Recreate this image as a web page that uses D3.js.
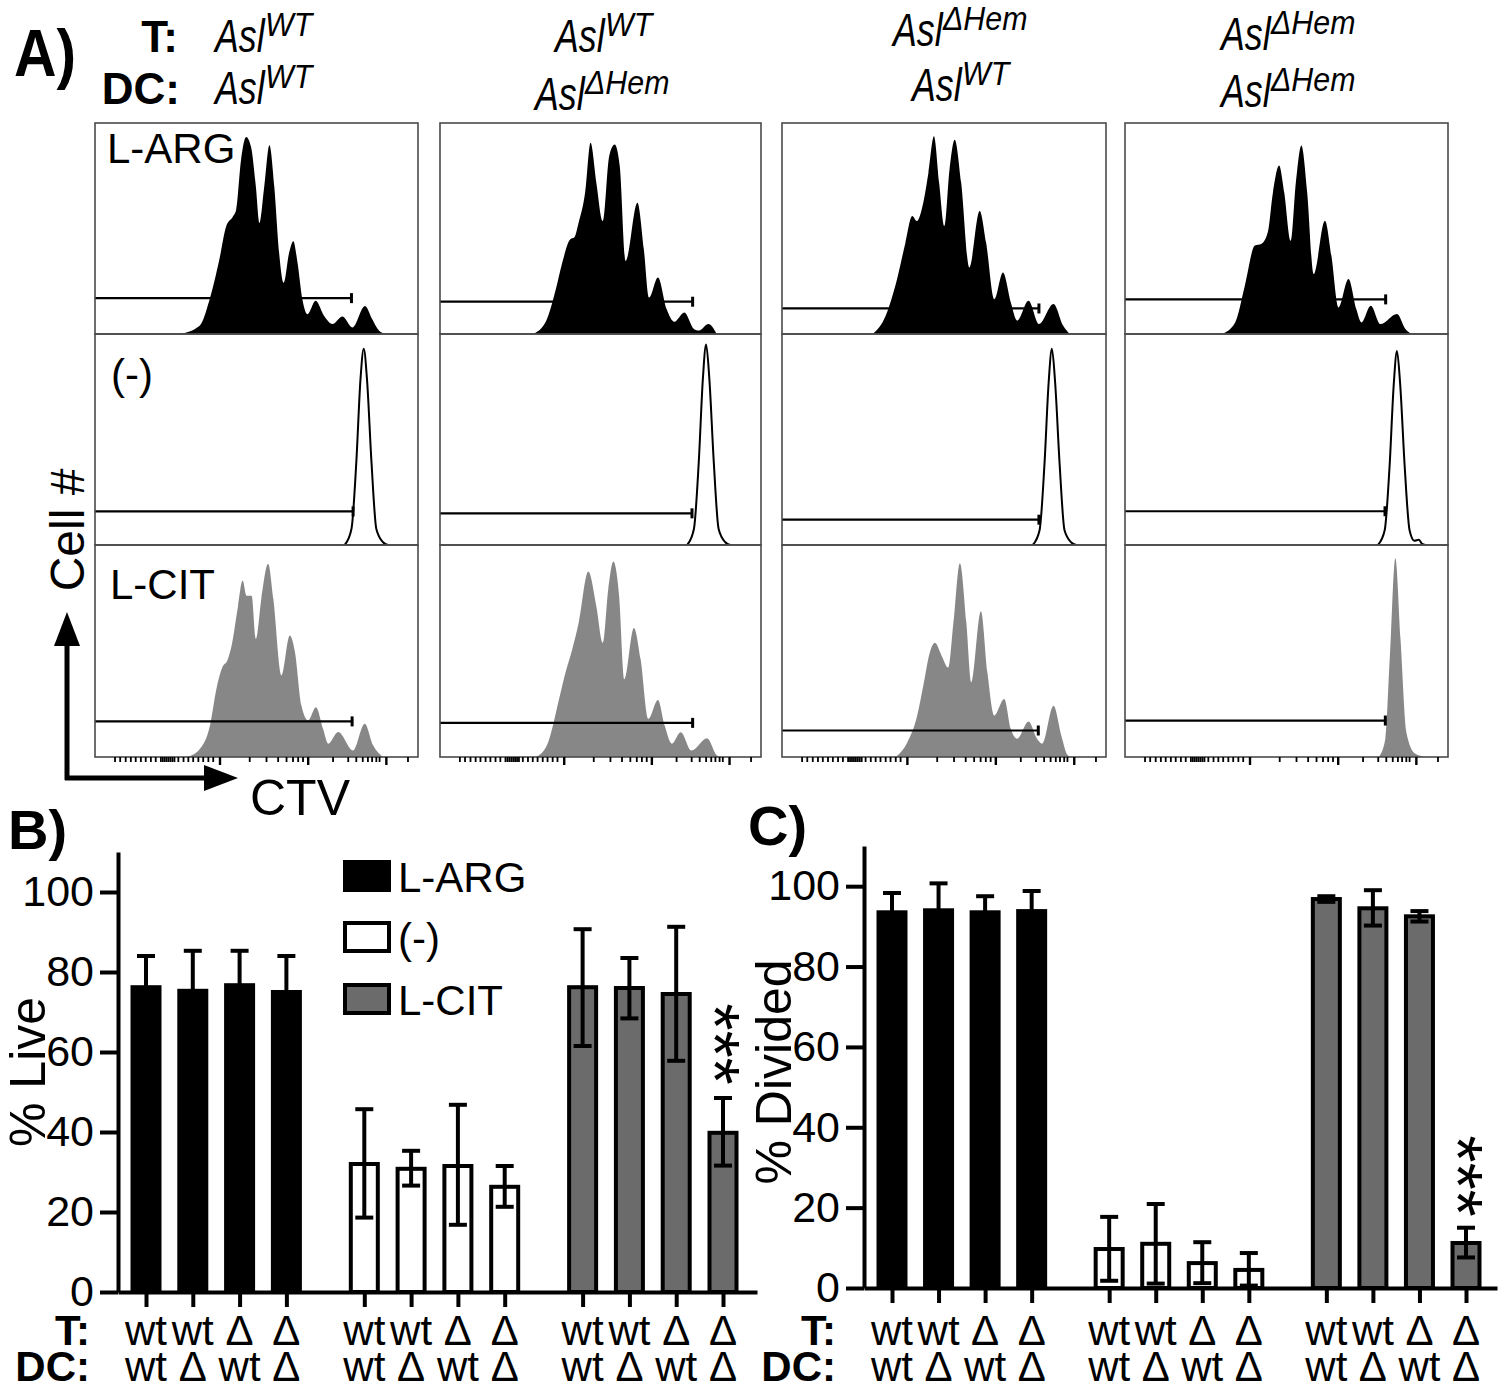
<!DOCTYPE html>
<html><head><meta charset="utf-8">
<script src="https://cdn.jsdelivr.net/npm/d3@7"></script>
<style>
body{margin:0;background:#fff}
svg{display:block}
text{font-family:"Liberation Sans",Arial,Helvetica,sans-serif;fill:#000}
</style>
</head><body>
<svg id="chart" width="1500" height="1391"></svg>
<script>
// ---------------- DATA ----------------
// Panel A header genotypes (superscripts of "Asl")
const headerT  = ["WT", "WT", "ΔHem", "ΔHem"];
const headerDC = ["WT", "ΔHem", "WT", "ΔHem"];
const rowLabels = ["L-ARG", "(-)", "L-CIT"];

// Histogram traces per column: [CTV position %, cell count % of max]
const histArg = [
  [[26.2,0],[32.4,3.9],[35.5,16.5],[38.5,35.3],[40.6,51],[42.7,55.7],[43.7,58.9],[45.2,82.4],[46.8,93.4],[48.3,88.7],[49.8,69.9],[50.9,52.6],[52.4,69.9],[54,89.5],[55.5,69.9],[57,38.5],[58.4,24.3],[60.1,38.5],[61.4,44],[62.7,33.8],[64.2,16.5],[65.8,9.4],[68.3,15.7],[70.9,8.6],[73.5,4.7],[76.6,8.3],[79.7,3.1],[83.6,13.3],[85.8,7.1],[87.9,1.6],[89.9,0]],
  [[29,0],[33.1,6.3],[36.1,21.3],[38.1,33.9],[40.6,44.9],[41.8,45.7],[43.2,52.8],[45.2,66.9],[46.9,90.6],[48.7,71.7],[50.7,53.5],[52.7,84.3],[54.4,89.8],[56,79.5],[57.8,34.6],[61.5,62.2],[63.5,40.2],[65.1,17.3],[67.9,26.8],[70.6,11.8],[73,5.8],[76.1,10.2],[79.1,2.4],[80.7,1.6],[83.6,4.7],[86.2,0]],
  [[28,0],[32,8.7],[35.5,26],[38.1,43.3],[40.2,55.9],[41.6,53.5],[43.6,62.2],[45.2,76.4],[46.9,93.7],[48.5,71.7],[50.1,51.2],[51.7,78],[53.3,92.1],[55.3,71.7],[57.8,31.5],[61,58.3],[63,43.3],[65.5,16.5],[68.2,29.1],[70.6,15],[72.6,6.3],[76.1,15.7],[79.3,4.7],[83.8,14.2],[86.8,3.9],[88.8,0]],
  [[30,0],[34.1,5.5],[37.1,22.9],[40.2,41.9],[42.2,42.7],[44.2,48.2],[45.8,67.1],[47.7,79.8],[49.3,67.1],[51.3,44.2],[52.9,71.9],[54.6,89.3],[56.4,67.1],[58.4,28.4],[61.9,53.7],[63.9,37.1],[66.1,12.6],[69.2,26.1],[71.6,11.8],[73.2,5.5],[76.1,13.4],[79.1,4.7],[84.2,9.5],[86.8,2.4],[88.8,0]]
];
const histNone = [
  [[77.3,0],[79.4,7.6],[80.9,39.2],[82.2,78.7],[83.2,93],[84.2,78.7],[85.6,39.2],[87.1,7.6],[89.2,1.3],[90.7,0]],
  [[77,0],[79.1,7.6],[80.6,39],[81.9,79],[82.9,95],[83.9,79],[85.3,39],[86.8,7.6],[88.9,1.3],[90.4,0]],
  [[77.4,0],[79.5,7],[81,38],[82.3,77],[83.3,93],[84.3,77],[85.7,38],[87.2,7],[89.3,1.2],[90.8,0]],
  [[78.3,0],[80.4,7],[81.9,37],[83.2,76],[84.2,92],[85.2,76],[86.6,37],[88.1,7],[89.6,2],[91,2.5],[92,0.5],[93,0]]
];
const histCit = [
  [[28.4,0],[32.5,3.9],[35.6,14.9],[37.6,32.2],[39.7,43.2],[40.7,44.7],[42.3,52.6],[44.3,71.4],[45.7,83.2],[46.9,76.1],[48.5,76.1],[49.8,55.7],[51.5,74.6],[53.6,91.1],[55.2,74.6],[57.7,38.5],[60.3,57.3],[61.9,49.5],[63.9,24.3],[66,17.3],[68.4,23.5],[70.6,13.3],[72.2,6.3],[75.3,11.8],[79.9,3.1],[83.5,15.7],[86.1,5.5],[89.2,0]],
  [[30,0],[33.7,7],[37.1,27.3],[39.1,39.8],[41.2,50.8],[43.2,63.3],[46.2,87.5],[48.7,71.1],[50.7,53.9],[52.4,78.9],[54,92.2],[55.8,75.8],[57.4,36.7],[60.4,60.9],[62.5,46.1],[64.9,18],[67.9,26.9],[70,14.8],[72.2,6.3],[75,11.7],[78.3,3.1],[83.2,8.9],[86.2,0.8],[87.2,0]],
  [[35.1,0],[38.7,7],[41.6,18.8],[43.6,33.6],[45.6,49.2],[47.2,53.9],[49.3,47.7],[51.3,42.2],[52.9,63.3],[54.9,91.4],[56.9,63.3],[58.4,35.2],[61.4,68.8],[63.4,39.8],[65.5,19.5],[68.6,27.3],[70.6,13.3],[72.6,8.6],[76.1,16.7],[78.7,8.6],[80.3,6.3],[83.8,24.2],[86.2,10.2],[88.2,0.8],[89.5,0]],
  [[78.6,0],[80.6,8.6],[82,47.7],[83.7,93.8],[85.3,55.5],[87.1,11.7],[89.8,1.6],[92.9,0]]
];
// Gates: [level %, right end %] per column
const gatesArg  = [[17,79.4],[15.3,78.7],[12.1,79.3],[16.4,80.7]];
const gatesNone = [[15.9,79.9],[15,78.5],[12,79.3],[16,80.5]];
const gatesCit  = [[16.8,79.6],[16.1,78.7],[12.5,79.1],[17.2,80.6]];
// CTV axis tick positions (% of panel width)
const ctvMinor = [6.2,7.8,9.5,11.1,12.6,14.2,15.7,17.3,18.8,20.4,21,21.6,22.2,22.8,23.4,24,24.6,25.8,27.4,28.9,30.4,32,33.5,35.1,36.6,47.9,53.1,56.7,59.3,61.3,62.9,64.4,73.7,78.4,80.9,82.9,84.5,85.8,87.1,88.1,96.9];
const ctvMajor = [38.7,66,90.2];

// Bar charts
const groups = ["L-ARG", "(-)", "L-CIT"];
const tLabels  = ["wt","wt","Δ","Δ"];
const dcLabels = ["wt","Δ","wt","Δ"];
const yTicks = [0,20,40,60,80,100];
const liveMean = [[76.2,75.3,76.7,75],[32,30.8,31.5,26.3],[76.2,76,74.5,39.8]];
const liveHi   = [[84,85.3,85.3,84],[45.7,35.3,46.8,31.5],[90.7,83.5,91.3,48.5]];
const liveLo   = [[68.4,65.3,68.1,66],[18.6,26.6,16.8,21.3],[61.5,68.4,57.8,31.6]];
const divMean  = [[93.5,94,93.5,93.8],[9.7,11,6.2,4.5],[96.8,94.5,92.5,11.2]];
const divHi    = [[98.3,100.7,97.5,98.8],[17.7,20.9,11.4,8.7],[97.5,99,93.8,15]];
const divLo    = [[88.7,87.3,89.5,88.8],[1.8,1.1,1.2,0.6],[96.1,90.2,91.2,7.6]];
const sigMark = "***";

// ---------------- DRAW ----------------
const svg = d3.select("#chart");
const FONT = '"Liberation Sans",Arial,Helvetica,sans-serif';

// ----- Panel A -----
const colX = [[95,418],[440,761],[782,1106],[1125,1448]];
const rowY = [[123,334],[334,545],[545,757]];
const hists = [histArg, histNone, histCit];
const gates = [gatesArg, gatesNone, gatesCit];
const histFill = ["#000", "#fff", "#878787"];

svg.append("text").attr("transform", "translate(14,76) scale(0.95,1.08)").attr("font-size", 62).attr("font-weight", "bold").text("A)");
svg.append("text").attr("x", 178).attr("y", 52).attr("font-size", 44).attr("font-weight", "bold").attr("text-anchor","end").text("T:");
svg.append("text").attr("x", 180).attr("y", 104).attr("font-size", 44).attr("font-weight", "bold").attr("text-anchor","end").text("DC:");

function gene(x, y, sup) {
  svg.append("text").attr("transform", `translate(${x},${y}) scale(0.76,1)`)
    .attr("font-size", 47).attr("font-style", "italic").text("Asl");
  svg.append("text").attr("transform", `translate(${x + 50},${y - 16}) scale(0.92,1)`)
    .attr("font-size", 33).attr("font-style", "italic").text(sup);
}
const headPosT  = [[215,52],[555,52],[893,46],[1221,50]];
const headPosDC = [[215,104],[535,110],[912,101],[1221,107]];
headerT.forEach((s,i) => gene(headPosT[i][0], headPosT[i][1], s));
headerDC.forEach((s,i) => gene(headPosDC[i][0], headPosDC[i][1], s));

const defs = svg.append("defs");
colX.forEach((cx, ci) => {
  const hx = d3.scaleLinear().domain([0,100]).range(cx);
  rowY.forEach((ry, ri) => {
    const hy = d3.scaleLinear().domain([0,100]).range([ry[1], ry[0]]);
    const id = `clip${ci}_${ri}`;
    defs.append("clipPath").attr("id", id).append("rect")
      .attr("x", cx[0]).attr("y", ry[0]).attr("width", cx[1]-cx[0]).attr("height", ry[1]-ry[0]);
    const g = svg.append("g");
    const area = d3.area().x(d => hx(d[0])).y0(hy(0)).y1(d => hy(d[1])).curve(d3.curveMonotoneX);
    g.append("path").datum(hists[ri][ci]).attr("clip-path", `url(#${id})`)
      .attr("d", area).attr("fill", histFill[ri])
      .attr("stroke", ri === 1 ? "#000" : "none").attr("stroke-width", 2);
    const gt = gates[ri][ci];
    g.append("line").attr("x1", hx(0)).attr("x2", hx(gt[1])).attr("y1", hy(gt[0])).attr("y2", hy(gt[0]))
      .attr("stroke", "#000").attr("stroke-width", 2.2);
    g.append("line").attr("x1", hx(gt[1])).attr("x2", hx(gt[1])).attr("y1", hy(gt[0]) - 5).attr("y2", hy(gt[0]) + 5)
      .attr("stroke", "#000").attr("stroke-width", 3);
    g.append("rect").attr("x", cx[0]).attr("y", ry[0]).attr("width", cx[1]-cx[0]).attr("height", ry[1]-ry[0])
      .attr("fill", "none").attr("stroke", "#4a4a4a").attr("stroke-width", 1.6);
  });
  // CTV ticks under bottom row
  const yb = rowY[2][1];
  svg.append("g").selectAll("line.mi").data(ctvMinor).join("line")
    .attr("x1", d => hx(d)).attr("x2", d => hx(d)).attr("y1", yb).attr("y2", yb + 5)
    .attr("stroke", "#000").attr("stroke-width", 1.8);
  svg.append("g").selectAll("line.ma").data(ctvMajor).join("line")
    .attr("x1", d => hx(d)).attr("x2", d => hx(d)).attr("y1", yb).attr("y2", yb + 8)
    .attr("stroke", "#000").attr("stroke-width", 2.4);
});
// row labels in first column
svg.append("text").attr("x", 107).attr("y", 163).attr("font-size", 42).text(rowLabels[0]);
svg.append("text").attr("x", 111).attr("y", 389).attr("font-size", 42).text(rowLabels[1]);
svg.append("text").attr("x", 110).attr("y", 599).attr("font-size", 42).text(rowLabels[2]);

// axes arrows
svg.append("line").attr("x1", 67).attr("y1", 780).attr("x2", 67).attr("y2", 640).attr("stroke", "#000").attr("stroke-width", 5);
svg.append("path").attr("d", "M67,612 L54,646 L80,646 Z").attr("fill", "#000");
svg.append("line").attr("x1", 65).attr("y1", 778).attr("x2", 210).attr("y2", 778).attr("stroke", "#000").attr("stroke-width", 5);
svg.append("path").attr("d", "M238,778 L204,765 L204,791 Z").attr("fill", "#000");
svg.append("text").attr("transform", "translate(84,530) rotate(-90)").attr("text-anchor", "middle").attr("font-size", 48).text("Cell #");
svg.append("text").attr("x", 250).attr("y", 815).attr("font-size", 50).text("CTV");

// ----- Bar charts -----
const barFill = ["#000", "#fff", "#6b6b6b"];
function barChart(opt) {
  const xs = d3.scaleLinear().domain([0, 12.33]).range(opt.xr);
  const ys = d3.scaleLinear().domain([0, 110]).range([opt.y0, opt.yTop]);
  const slot = (gi, bi) => gi * 4.665 + bi;
  const g = svg.append("g");
  // axes
  const yAxis = d3.axisLeft(ys).tickValues(yTicks).tickSize(18).tickPadding(6).tickSizeOuter(0);
  const ya = g.append("g").attr("transform", `translate(${opt.xAxis},0)`).call(yAxis);
  ya.selectAll("path,line").attr("stroke", "#000").attr("stroke-width", 4);
  ya.selectAll("text").attr("font-size", 43).attr("font-family", FONT).attr("fill", "#000");
  const slots = [];
  groups.forEach((gname, gi) => tLabels.forEach((t, bi) => slots.push(slot(gi, bi))));
  const xsAxis = d3.scaleLinear().domain([xs.invert(opt.xAxis), xs.invert(opt.xEnd)]).range([opt.xAxis, opt.xEnd]);
  const xAxis = d3.axisBottom(xsAxis).tickValues(slots).tickSize(15).tickSizeOuter(0).tickFormat("");
  const xa = g.append("g").attr("transform", `translate(0,${opt.y0})`).call(xAxis);
  xa.selectAll("path,line").attr("stroke", "#000").attr("stroke-width", 4);

  groups.forEach((gname, gi) => {
    opt.mean[gi].forEach((m, bi) => {
      const cx = xs(slot(gi, bi));
      g.append("rect").attr("x", cx - 13.5).attr("width", 27)
        .attr("y", ys(m)).attr("height", ys(0) - ys(m))
        .attr("fill", barFill[gi]).attr("stroke", "#000").attr("stroke-width", 4);
    });
  });
  groups.forEach((gname, gi) => {
    opt.mean[gi].forEach((m, bi) => {
      const cx = xs(slot(gi, bi));
      const hi = opt.hi[gi][bi], lo = opt.lo[gi][bi];
      g.append("line").attr("x1", cx).attr("x2", cx).attr("y1", ys(hi)).attr("y2", ys(lo)).attr("stroke", "#000").attr("stroke-width", 4);
      [hi, lo].forEach(v => g.append("line").attr("x1", cx - 9).attr("x2", cx + 9).attr("y1", ys(v)).attr("y2", ys(v)).attr("stroke", "#000").attr("stroke-width", 4));
    });
  });
  // category labels
  groups.forEach((gname, gi) => {
    tLabels.forEach((t, bi) => {
      const cx = xs(slot(gi, bi));
      g.append("text").attr("x", cx).attr("y", 1345).attr("text-anchor", "middle").attr("font-size", 42).text(t);
      g.append("text").attr("x", cx).attr("y", 1381).attr("text-anchor", "middle").attr("font-size", 42).text(dcLabels[bi]);
    });
  });
  g.append("text").attr("x", opt.xAxis - 28).attr("y", 1345).attr("text-anchor", "end").attr("font-size", 42).attr("font-weight", "bold").text("T:");
  g.append("text").attr("x", opt.xAxis - 28).attr("y", 1381).attr("text-anchor", "end").attr("font-size", 42).attr("font-weight", "bold").text("DC:");
  // y title
  g.append("text").attr("transform", `translate(${opt.titleX},1072) rotate(-90)`).attr("text-anchor", "middle").attr("font-size", 50).text(opt.title);
  // significance stars (vertical column of asterisks above the last L-CIT bar)
  const sx = xs(slot(2, 3));
  g.append("text").attr("transform", `translate(${sx - 33},${opt.starY}) rotate(90)`)
    .attr("text-anchor", "middle").attr("font-size", 70).text(sigMark);
  return {xs, ys};
}

barChart({xr: [146, 723], xAxis: 118, xEnd: 757, y0: 1292, yTop: 852,
  mean: liveMean, hi: liveHi, lo: liveLo, title: "% Live", titleX: 45, starY: 1044});
barChart({xr: [892, 1466], xAxis: 864, xEnd: 1497, y0: 1288, yTop: 846,
  mean: divMean, hi: divHi, lo: divLo, title: "% Divided", titleX: 791, starY: 1176});

svg.append("text").attr("x", 8).attr("y", 849).attr("font-size", 56).attr("font-weight", "bold").text("B)");
svg.append("text").attr("x", 748).attr("y", 845).attr("font-size", 56).attr("font-weight", "bold").text("C)");

// legend
const legY = [862, 923, 985];
groups.forEach((gname, i) => {
  svg.append("rect").attr("x", 345).attr("y", legY[i]).attr("width", 44).attr("height", 28)
    .attr("fill", barFill[i]).attr("stroke", "#000").attr("stroke-width", 4);
  svg.append("text").attr("x", 398).attr("y", legY[i] + 30).attr("font-size", 42).text(gname);
});
</script>
</body></html>
